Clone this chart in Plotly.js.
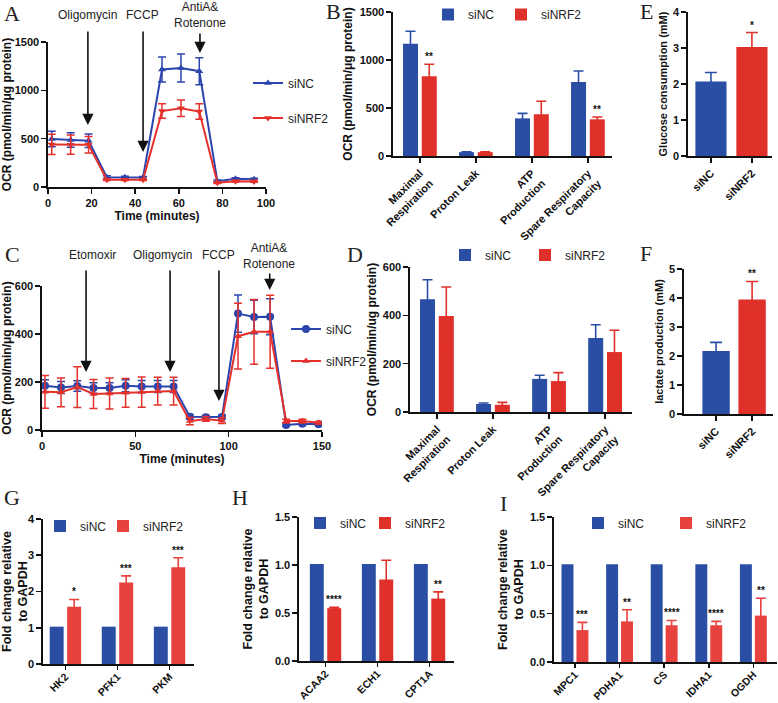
<!DOCTYPE html>
<html>
<head>
<meta charset="utf-8">
<script src="https://cdn.plot.ly/plotly-3.0.1.min.js"></script>
<style>html,body{margin:0;padding:0;background:#fff}</style>
</head>
<body>
<div id="chart" style="width:778px;height:703px"></div>
<script>
// ---- data ----
// A: mito stress test (OCR vs time)
const aTime = [1.7, 10.4, 18.6, 27.0, 35.3, 43.6, 52.3, 61.0, 69.4, 77.7, 86.0, 94.5];
const aNC = [497, 485, 478, 102, 100, 99, 1215, 1232, 1198, 60, 85, 80];
const aNCerr = [80, 75, 70, 15, 12, 10, 130, 145, 140, 12, 10, 10];
const aNRF2 = [440, 438, 437, 76, 76, 76, 785, 815, 780, 45, 60, 58];
const aNRF2err = [105, 100, 85, 10, 10, 8, 75, 85, 80, 10, 8, 8];

// C: fatty acid oxidation test (OCR vs time)
const cTime = [1.6, 10.2, 18.9, 27.6, 36.2, 44.8, 53.4, 62.0, 70.5, 79.2, 87.8, 96.4, 105.0, 113.6, 122.2, 130.8, 139.5, 148.2];
const cNC = [184, 177, 183, 175, 175, 184, 181, 181, 181, 55, 53, 54, 485, 471, 472, 21, 26, 24];
const cNCerr = [25, 25, 22, 22, 22, 25, 25, 25, 25, 10, 8, 8, 78, 70, 75, 5, 5, 5];
const cNRF2 = [159, 157, 179, 150, 152, 155, 158, 162, 162, 37, 46, 39, 391, 409, 409, 37, 37, 30];
const cNRF2err = [68, 60, 85, 60, 65, 60, 63, 58, 58, 15, 10, 12, 137, 135, 152, 8, 8, 5];

// B / D: respiration parameters
const respCats = ['Maximal<br>Respiration', 'Proton Leak', 'ATP<br>Production', 'Spare Respiratory<br>Capacity'];
const bNC = [1170, 40, 392, 770];
const bNCerr = [130, 3, 52, 115];
const bNRF2 = [830, 40, 435, 382];
const bNRF2err = [125, 3, 135, 25];
const bStars = ['**', '', '', '**'];
const dNC = [467, 33, 137, 306];
const dNCerr = [80, 4, 15, 55];
const dNRF2 = [397, 30, 128, 248];
const dNRF2err = [120, 10, 35, 90];

// E / F: glucose consumption, lactate production
const groups = ['siNC', 'siNRF2'];
const eVals = [2.07, 3.03];
const eErr = [0.25, 0.40];
const eStar = '*';
const fVals = [2.17, 3.95];
const fErr = [0.30, 0.62];
const fStar = '**';

// G / H / I: qPCR fold change
const gGenes = ['HK2', 'PFK1', 'PKM'];
const gNC = [1.03, 1.03, 1.03];
const gNRF2 = [1.58, 2.25, 2.67];
const gNRF2err = [0.20, 0.18, 0.26];
const gStars = ['*', '***', '***'];
const hGenes = ['ACAA2', 'ECH1', 'CPT1A'];
const hNC = [1.01, 1.01, 1.01];
const hNRF2 = [0.55, 0.85, 0.65];
const hNRF2err = [0.01, 0.20, 0.07];
const hStars = ['****', '', '**'];
const iGenes = ['MPC1', 'PDHA1', 'CS', 'IDHA1', 'OGDH'];
const iNC = [1.01, 1.01, 1.01, 1.01, 1.01];
const iNRF2 = [0.33, 0.42, 0.38, 0.38, 0.48];
const iNRF2err = [0.08, 0.12, 0.05, 0.04, 0.18];
const iStars = ['***', '**', '****', '****', '**'];

// ---- styling ----
const W = 778, H = 703;
const px = (a, b) => [a / W, b / W];
const py = (top, bottom) => [1 - bottom / H, 1 - top / H];

const FONT = '"Liberation Sans", Arial, sans-serif';
const ink = '#111111';
const blue = '#2b4ea5';
const red = '#e0302a';
const redSoft = '#e8423f';
const lineBlue = '#2c45ad';
const lineRed = '#e5312c';

const tickFont = {family: FONT, size: 11, color: ink, weight: 'bold'};
const smallTick = {family: FONT, size: 10.5, color: ink, weight: 'bold'};
const legendFont = {family: FONT, size: 12, color: '#222'};
const starFont = {family: FONT, size: 10, color: ink, weight: 'bold'};
const noteFont = {family: FONT, size: 12, color: '#222'};
const letterFont = {family: '"Liberation Serif", "Times New Roman", serif', size: 22, color: '#222'};

function axis(extra) {
    return Object.assign({
        showline: true, linecolor: ink, linewidth: 1.6,
        ticks: 'outside', ticklen: 5, tickwidth: 1.6, tickcolor: ink,
        showgrid: false, zeroline: false, tickfont: tickFont, fixedrange: true
    }, extra);
}

const traces = [];
const annotations = [];

// line panels
function lineTrace(x, y, err, name, color, symbol, size, xa, ya, lg) {
    return {
        type: 'scatter', mode: 'lines+markers', x: x, y: y, name: name,
        xaxis: xa, yaxis: ya, legend: lg,
        line: {color: color, width: 2},
        marker: {symbol: symbol, size: size, color: color},
        error_y: {type: 'data', array: err, color: color, thickness: 1.5, width: 4}
    };
}
traces.push(lineTrace(aTime, aNC, aNCerr, 'siNC', lineBlue, 'triangle-up', 7, 'x', 'y', 'legend'));
traces.push(lineTrace(aTime, aNRF2, aNRF2err, 'siNRF2', lineRed, 'triangle-down', 7, 'x', 'y', 'legend2'));
traces.push(lineTrace(cTime, cNC, cNCerr, 'siNC', lineBlue, 'circle', 8, 'x4', 'y4', 'legend3'));
traces.push(lineTrace(cTime, cNRF2, cNRF2err, 'siNRF2', lineRed, 'triangle-up', 7, 'x4', 'y4', 'legend4'));

// grouped bar panels
function barPair(cats, nc, ncErr, nrf2, nrf2Err, redColor, xa, ya, lgA, lgB) {
    const a = {
        type: 'bar', x: cats, y: nc, name: 'siNC', xaxis: xa, yaxis: ya, legend: lgA,
        marker: {color: blue}, offsetgroup: 'nc'
    };
    if (ncErr) a.error_y = {type: 'data', array: ncErr, color: blue, thickness: 1.6, width: 5};
    const b = {
        type: 'bar', x: cats, y: nrf2, name: 'siNRF2', xaxis: xa, yaxis: ya, legend: lgB,
        marker: {color: redColor}, offsetgroup: 'nrf2',
        error_y: {type: 'data', array: nrf2Err, color: redColor, thickness: 1.6, width: 5}
    };
    traces.push(a, b);
}
barPair(respCats, bNC, bNCerr, bNRF2, bNRF2err, red, 'x2', 'y2', 'legend5', 'legend6');
barPair(respCats, dNC, dNCerr, dNRF2, dNRF2err, red, 'x5', 'y5', 'legend7', 'legend8');
barPair(gGenes, gNC, null, gNRF2, gNRF2err, redSoft, 'x7', 'y7', 'legend9', 'legend10');
barPair(hGenes, hNC, null, hNRF2, hNRF2err, red, 'x8', 'y8', 'legend11', 'legend12');
barPair(iGenes, iNC, null, iNRF2, iNRF2err, redSoft, 'x9', 'y9', 'legend13', 'legend14');

// two-bar panels
function singleBars(vals, errs, xa, ya) {
    [blue, red].forEach((c, i) => {
        traces.push({
            type: 'bar', x: [groups[i]], y: [vals[i]], xaxis: xa, yaxis: ya,
            width: 0.76, offsetgroup: 'one', showlegend: false,
            marker: {color: c},
            error_y: {type: 'data', array: [errs[i]], color: c, thickness: 1.6, width: 6}
        });
    });
}
singleBars(eVals, eErr, 'x3', 'y3');
singleBars(fVals, fErr, 'x6', 'y6');

// significance stars above red bars
const redShift = (1 - 0.33) / 4;
function stars(labels, vals, errs, xa, ya, shift) {
    labels.forEach((s, i) => {
        if (!s) return;
        annotations.push({
            xref: xa, yref: ya, x: i + shift, y: vals[i] + errs[i], text: s,
            showarrow: false, yanchor: 'bottom', font: starFont
        });
    });
}
stars(bStars, bNRF2, bNRF2err, 'x2', 'y2', redShift);
stars(gStars, gNRF2, gNRF2err, 'x7', 'y7', redShift);
stars(hStars, hNRF2, hNRF2err, 'x8', 'y8', redShift);
stars(iStars, iNRF2, iNRF2err, 'x9', 'y9', redShift);
stars(['', eStar], eVals, eErr, 'x3', 'y3', 0);
stars(['', fStar], fVals, fErr, 'x6', 'y6', 0);

// drug injection arrows
function drug(xa, labelX, label, labelTop, arrowX, tailTop, headTop) {
    annotations.push({
        xref: xa, yref: 'paper', x: labelX, y: 1 - labelTop / H, text: label,
        showarrow: false, yanchor: 'middle', font: noteFont
    });
    annotations.push({
        xref: xa, yref: 'paper', x: arrowX, y: 1 - headTop / H, text: '',
        showarrow: true, axref: 'pixel', ayref: 'pixel', ax: 0, ay: -(headTop - tailTop),
        arrowhead: 2, arrowsize: 1.4, arrowwidth: 1.6, arrowcolor: ink, standoff: 0
    });
}
drug('x', 18.3, 'Oligomycin', 15, 18.3, 30, 125);
drug('x', 43.3, 'FCCP', 15, 43.6, 30, 152);
drug('x', 69.7, 'AntiA&<br>Rotenone', 15, 69.7, 32, 53);
drug('x4', 26.8, 'Etomoxir', 255, 23.6, 269, 372);
drug('x4', 64.3, 'Oligomycin', 255, 68.6, 269, 372);
drug('x4', 94.3, 'FCCP', 255, 94.8, 269, 401);
drug('x4', 121.5, 'AntiA&<br>Rotenone', 256, 122, 272, 290);

// panel letters
[['A', 12, 14], ['B', 333, 12], ['E', 646, 12], ['C', 12, 254], ['D', 355, 254],
 ['F', 646, 253], ['G', 12, 498], ['H', 240, 498], ['I', 503, 503]].forEach(([t, x, y]) => {
    annotations.push({xref: 'paper', yref: 'paper', x: x / W, y: 1 - y / H, text: t,
        showarrow: false, xanchor: 'center', yanchor: 'middle', font: letterFont});
});

// one legend box per entry, placed where the figure has it
function legendBox(left, centerY) {
    return {
        x: left / W, y: Math.min(1, 1 - (centerY - 13.5) / H), xanchor: 'left', yanchor: 'top',
        bgcolor: 'rgba(0,0,0,0)', borderwidth: 0, font: legendFont, orientation: 'v'
    };
}

const ocrTitle = 'OCR (pmol/min/μg protein)';
const foldTitle = 'Fold change relative<br>to GAPDH';
const cat = (dom, range, font, extra) => axis(Object.assign({type: 'category', domain: dom, range: range, tickangle: -45, tickfont: font || tickFont}, extra));
const t = (s, size, standoff) => ({text: s, standoff: standoff, font: {family: FONT, size: size || 12, color: ink, weight: 'bold'}});
const bottomRow = {ticklen: 4, ticklabelstandoff: -3};

const layout = {
    width: W, height: H,
    margin: {l: 0, r: 0, t: 0, b: 0, autoexpand: false},
    paper_bgcolor: '#ffffff', plot_bgcolor: '#ffffff',
    font: {family: FONT, color: ink},
    barmode: 'group', bargap: 0.33, bargroupgap: 0.2,
    showlegend: true,
    // A
    xaxis: axis({domain: px(48, 266), range: [0, 100], dtick: 20, anchor: 'y', title: t('Time (minutes)', 12, 2)}),
    yaxis: axis({domain: py(42, 187), range: [0, 1500], dtick: 500, anchor: 'x', title: t(ocrTitle, 12, 4)}),
    // B
    xaxis2: Object.assign(cat(px(393, 612), [-0.48, 3.43]), {anchor: 'y2'}),
    yaxis2: axis({domain: py(12, 156), range: [0, 1500], dtick: 500, anchor: 'x2', title: t(ocrTitle, 12, 4)}),
    // E
    xaxis3: Object.assign(cat(px(688, 772), [-0.56, 1.49]), {anchor: 'y3'}),
    yaxis3: axis({domain: py(12, 156), range: [0, 4], dtick: 1, anchor: 'x3', title: t('Glucose consumption (mM)', 11, 3)}),
    // C
    xaxis4: axis({domain: px(42, 322), range: [0, 150], dtick: 50, anchor: 'y4', title: t('Time (minutes)', 12, 2)}),
    yaxis4: axis({domain: py(286, 430), range: [0, 600], dtick: 200, anchor: 'x4', title: t(ocrTitle, 12, 4)}),
    // D
    xaxis5: Object.assign(cat(px(410, 632), [-0.48, 3.48]), {anchor: 'y5'}),
    yaxis5: axis({domain: py(267, 412), range: [0, 600], dtick: 200, anchor: 'x5', title: t('OCR (pmol/min/ug protein)', 12, 3)}),
    // F
    xaxis6: Object.assign(cat(px(684, 773), [-0.89, 1.58]), {anchor: 'y6'}),
    yaxis6: axis({domain: py(269, 414), range: [0, 5], dtick: 1, anchor: 'x6', title: t('lactate production (mM)', 11, 3)}),
    // G
    xaxis7: Object.assign(cat(px(43, 194), [-0.43, 2.47], smallTick, bottomRow), {anchor: 'y7'}),
    yaxis7: axis({domain: py(519, 664), range: [0, 4], dtick: 1, anchor: 'x7', title: t(foldTitle, 12.5, 3)}),
    // H
    xaxis8: Object.assign(cat(px(299, 454), [-0.51, 2.47], smallTick, bottomRow), {anchor: 'y8'}),
    yaxis8: axis({domain: py(517, 661), range: [0, 1.5], dtick: 0.5, tickformat: '.1f', anchor: 'x8', title: t(foldTitle, 12.5, 3)}),
    // I
    xaxis9: Object.assign(cat(px(554, 777), [-0.47, 4.53], smallTick, bottomRow), {anchor: 'y9'}),
    yaxis9: axis({domain: py(517, 662), range: [0, 1.5], dtick: 0.5, tickformat: '.1f', anchor: 'x9', title: t(foldTitle, 12.5, 3)}),

    legend: legendBox(248, 82),
    legend2: legendBox(248, 117),
    legend3: legendBox(286, 328),
    legend4: legendBox(286, 360),
    legend5: legendBox(428, 13),
    legend6: legendBox(501, 13),
    legend7: legendBox(445, 254),
    legend8: legendBox(525, 254),
    legend9: legendBox(40, 525),
    legend10: legendBox(103, 525),
    legend11: legendBox(300, 522),
    legend12: legendBox(365, 522),
    legend13: legendBox(578, 522),
    legend14: legendBox(666, 522),

    annotations: annotations
};

Plotly.newPlot('chart', traces, layout, {staticPlot: true, displayModeBar: false});
</script>
</body>
</html>
